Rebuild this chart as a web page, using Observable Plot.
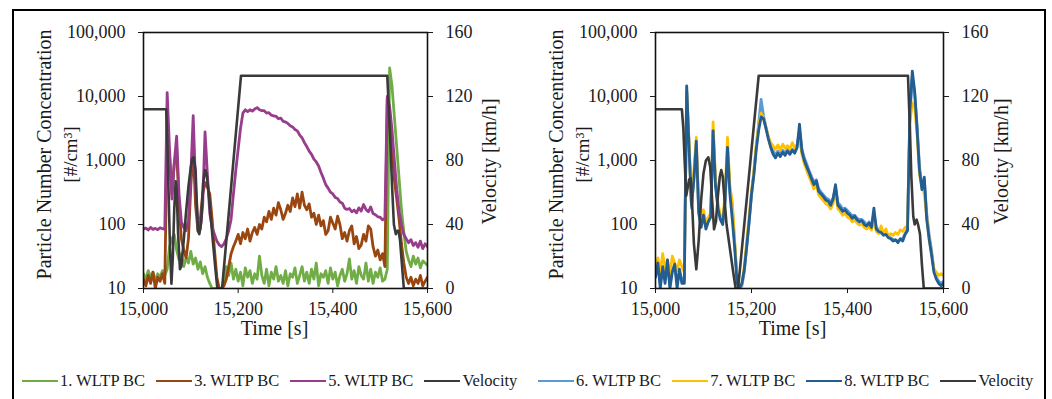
<!DOCTYPE html>
<html><head><meta charset="utf-8">
<script src="https://cdn.jsdelivr.net/npm/d3@7"></script>
<script src="https://cdn.jsdelivr.net/npm/@observablehq/plot@0.6"></script>
<style>
body{margin:0;background:#fff;width:1052px;height:399px;overflow:hidden;position:relative;font-family:"Liberation Serif",serif;}
#border{position:absolute;left:12px;top:9px;width:1034px;height:420px;border:2.5px solid #000;box-sizing:border-box;}
#left{position:absolute;left:0;top:0;}
#right{position:absolute;left:520px;top:0;}
.legend{position:absolute;top:370px;height:22px;display:flex;align-items:center;font-size:16.5px;color:#1a1a1a;white-space:nowrap;}
.item{display:flex;align-items:center;margin-right:11px;}
.sw{width:36px;height:0;border-top:2.5px solid;margin-right:2px;}
</style></head><body>
<div id="border"></div><div id="left"></div><div id="right"></div>
<div class="legend" id="legL" style="left:22px"></div>
<div class="legend" id="legR" style="left:538px"></div>
<script>
// time grid [s]
const time = [15000,15005,15010,15015,15020,15025,15030,15035,15040,15045,
15050,15055,15060,15065,15070,15075,15080,15085,15090,15095,
15100,15105,15110,15115,15120,15125,15130,15135,15140,15145,
15150,15155,15160,15165,15170,15175,15180,15185,15190,15195,
15200,15205,15210,15215,15220,15225,15230,15235,15240,15245,
15250,15255,15260,15265,15270,15275,15280,15285,15290,15295,
15300,15305,15310,15315,15320,15325,15330,15335,15340,15345,
15350,15355,15360,15365,15370,15375,15380,15385,15390,15395,
15400,15405,15410,15415,15420,15425,15430,15435,15440,15445,
15450,15455,15460,15465,15470,15475,15480,15485,15490,15495,
15500,15505,15510,15515,15520,15525,15530,15535,15540,15545,
15550,15555,15560,15565,15570,15575,15580,15585,15590,15595,
15600];

// left panel: particle number concentration [#/cm3]
const pn1 = [17,14,19,15,18,13,17,15,19,16,
20,45,60,70,40,28,35,22,30,25,
38,24,30,20,26,17,22,15,12,10,
10,10,10,10,12,22,16,25,14,20,
13,18,11,21,15,19,12,17,14,32,
16,12,20,11,18,14,22,13,16,12,
19,11,17,15,21,12,16,22,13,18,
12,20,14,25,11,17,15,19,12,21,
14,18,11,16,20,13,17,29,14,19,
12,22,16,14,25,13,20,12,18,15,
21,13,14,20,28000,14500,4800,1600,520,170,
75,38,28,22,32,24,30,21,27,25,
23];
const pn3 = [14,11,16,12,18,10,15,13,17,12,
3000,1200,300,900,1500,200,60,40,30,60,
400,1500,200,80,120,300,450,380,300,120,
40,15,10,10,11,14,22,35,45,55,
70,50,75,60,85,55,75,90,70,100,
85,130,110,160,120,180,140,220,170,120,
150,200,160,260,190,300,180,320,200,170,
210,130,150,100,140,95,115,70,80,130,
105,85,135,100,60,75,55,80,95,50,
65,42,48,70,55,95,85,45,32,40,
28,35,22,9000,4000,1500,500,250,120,50,
25,15,12,15,11,14,12,16,11,13,
15];
const pn5 = [85,88,82,90,84,87,83,89,86,84,
11500,1500,250,900,2400,300,110,90,80,120,
600,5000,400,100,85,200,2800,600,150,90,
70,55,48,45,50,60,80,120,300,700,
1500,3200,5500,6200,5800,6200,5900,6400,6700,6200,
6000,6000,5500,5600,5100,5000,4900,4500,4600,4100,
4000,3800,3500,3350,3050,2900,2500,2250,1900,1650,
1400,1250,1050,950,820,650,530,420,370,320,
300,265,255,225,215,180,172,178,158,168,
152,182,162,205,172,158,188,148,142,132,
130,118,126,10000,7000,3000,1000,350,160,100,
70,60,52,58,47,52,44,55,42,50,
45];
const velTimeL = [15000,15048,15050,15053,15056,15059,15062,15065,15068,15070,
15073,15077,15080,15085,15090,15095,15100,15103,15106,15110,
15113,15115,15118,15122,15126,15130,15133,15137,15142,15147,
15152,15156,15166,15206,15515,15521,15525,15529,15533,15536,
15539,15542,15546,15550,15600];
const velL = [112,112,95,60,25,3,20,50,67,62,
35,12,14,30,48,64,76,81,82,74,
50,36,34,42,66,74,72,62,45,28,
12,0,0,133,133,95,65,40,34,36,
36,30,15,0,0];

// right panel
const pn6 = [18,22,12,20,15,25,11,20,22,13,
18,14,13,12000,1800,180,550,1800,170,100,
150,95,120,140,3000,450,200,130,110,220,
1500,350,200,50,14,10,11,18,45,110,
280,650,1700,3800,9000,5000,3400,2300,1700,1400,
1250,1400,1250,1450,1300,1500,1350,1500,1400,1700,
3000,1500,1100,880,700,560,460,500,360,320,
290,260,250,220,260,380,220,200,175,180,
165,150,135,140,125,120,120,110,100,110,
95,150,90,82,80,72,75,66,62,58,
56,55,58,60,72,85,5000,20000,11000,3500,
800,400,500,150,70,40,20,15,13,12,
13];
const pn7 = [22,30,18,35,20,28,16,32,25,19,
28,22,18,12000,1800,200,700,2300,180,110,
170,100,130,150,4000,500,220,140,120,300,
2300,400,220,55,14,10,12,22,55,130,
330,700,1800,3500,5500,4600,3300,2400,1900,1700,
1500,1750,1450,1800,1550,1700,1500,1900,1550,1800,
2100,1250,900,700,560,450,360,420,290,260,
235,210,200,175,215,330,175,160,140,150,
130,125,110,118,105,98,102,90,85,92,
82,120,78,72,95,70,85,65,72,68,
75,70,82,78,90,95,4000,8000,7000,2500,
600,400,300,130,60,35,20,18,16,17,
16];
const pn8 = [15,25,10,22,12,28,10,18,24,10,
20,12,12,14700,1500,200,500,2000,150,90,
140,85,110,130,2900,400,180,120,100,250,
1600,300,120,43,12,10,12,20,45,110,
300,600,1500,3000,4800,4500,3200,2200,1600,1250,
1100,1300,1150,1350,1200,1400,1250,1450,1300,1600,
3700,1400,1000,800,650,520,420,480,330,300,
270,240,230,200,250,420,200,180,160,170,
150,140,125,135,118,110,115,100,95,105,
90,180,85,78,75,68,70,62,60,55,
58,52,60,55,70,80,6000,25000,12000,3000,
700,350,550,120,60,34,18,14,12,11,
12];
const velTimeR = [15000,15055,15058,15061,15064,15067,15070,15073,15076,15080,
15085,15090,15095,15100,15105,15110,15114,15118,15122,15126,
15130,15134,15137,15140,15144,15148,15155,15162,15167,15172,
15215,15526,15530,15533,15537,15540,15544,15547,15551,15555,
15559,15600];
const velR = [112,112,100,78,58,63,68,69,55,28,
12,30,55,72,80,82,76,55,37,42,
58,70,74,70,55,40,25,10,0,0,
133,133,100,70,45,40,43,40,34,15,
0,0];

const xTicks = [15000,15200,15400,15600];
const pnTicks = [10,100,1000,10000,100000];
const velTicks = [0,40,80,120,160];
const namesL = ["1. WLTP BC","3. WLTP BC","5. WLTP BC","Velocity"];
const namesR = ["6. WLTP BC","7. WLTP BC","8. WLTP BC","Velocity"];
const colorsL = ["#70AD47","#9A4610","#983C8C","#3A3A3A"];
const colorsR = ["#5B9BD5","#FFC000","#245D92","#3A3A3A"];

// velocity (0–160 km/h) shares the log y scale: 0→10, 160→100000
const toY = v => Math.pow(10, 1 + v / 40);
const velLabel = new Map(velTicks.map(v => [toY(v), String(v)]));
const fmt = d3.format(",");

function panel(series, colors, velT, vel, mL, mR, W, velDx, timeDx) {
  const marks = [];
  series.forEach((s, k) => {
    const data = time.map((t, i) => ({t, v: s[i]}));
    marks.push(Plot.line(data, {x: "t", y: "v", stroke: colors[k], strokeWidth: 2.8, clip: true}));
  });
  const vdata = velT.map((t, i) => ({t, v: vel[i]}));
  marks.push(Plot.line(vdata, {x: "t", y: d => toY(d.v), stroke: colors[3], strokeWidth: 2.6, clip: true}));
  marks.push(Plot.frame({stroke: "#111", strokeWidth: 1.6}));
  marks.push(Plot.axisX(xTicks, {tickFormat: fmt, tickSize: 5, tickPadding: 9, label: null}));
  marks.push(Plot.axisY(pnTicks, {anchor: "left", tickFormat: fmt, tickSize: 5, tickPadding: 13, label: null}));
  marks.push(Plot.axisY(velTicks.map(toY), {anchor: "right", tickFormat: d => velLabel.get(d), tickSize: 5, tickPadding: 13, label: null}));
  marks.push(Plot.text(["Time [s]"], {frameAnchor: "bottom", lineAnchor: "middle", textAnchor: "middle", dy: 40, dx: timeDx, fontSize: 20}));
  marks.push(Plot.text(["Particle Number Concentration"], {frameAnchor: "left", textAnchor: "middle", lineAnchor: "middle", dx: -99, dy: -6, rotate: -90, fontSize: 20}));
  marks.push(Plot.text(["[#/cm³]"], {frameAnchor: "left", textAnchor: "middle", lineAnchor: "middle", dx: -73, dy: -6, rotate: -90, fontSize: 19}));
  marks.push(Plot.text(["Velocity [km/h]"], {frameAnchor: "right", textAnchor: "middle", lineAnchor: "middle", dx: velDx, dy: 1, rotate: -90, fontSize: 20}));
  return Plot.plot({
    width: W, height: 345,
    marginLeft: mL, marginRight: mR, marginTop: 32, marginBottom: 57,
    x: {domain: [15000, 15600]},
    y: {type: "log", domain: [10, 100000]},
    style: {fontFamily: "Liberation Serif, serif", fontSize: "18px", color: "#1a1a1a", background: "transparent", overflow: "visible"},
    marks
  });
}

document.getElementById("left").append(panel([pn1, pn3, pn5], colorsL, velTimeL, velL, 143, 93, 520, 62, -11));
document.getElementById("right").append(panel([pn6, pn7, pn8], colorsR, velTimeR, velR, 135, 109, 532, 58, -7));

function legend(id, names, colors) {
  const el = document.getElementById(id);
  names.forEach((n, i) => {
    const it = document.createElement("div"); it.className = "item";
    const sw = document.createElement("div"); sw.className = "sw"; sw.style.borderTopColor = colors[i];
    const tx = document.createElement("span"); tx.textContent = n;
    it.append(sw, tx); el.append(it);
  });
}
legend("legL", namesL, colorsL);
legend("legR", namesR, colorsR);
</script>
</body></html>
